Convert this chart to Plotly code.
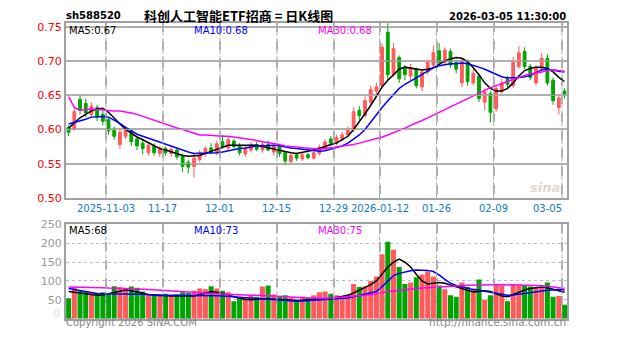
import plotly.graph_objects as go
import pandas as pd

W, H = 627, 342

holidays = ["2026-01-01", "2026-01-02", "2026-02-16", "2026-02-17", "2026-02-18",
            "2026-02-19", "2026-02-20", "2026-02-23"]
dates = [d.strftime("%Y-%m-%d") for d in pd.bdate_range("2025-10-23", "2026-03-05")
         if d.strftime("%Y-%m-%d") not in holidays]

open_ = [0.603, 0.600, 0.644, 0.638, 0.622, 0.632, 0.622, 0.614, 0.600, 0.578,
         0.590, 0.598, 0.586, 0.580, 0.566, 0.576, 0.565, 0.572, 0.565, 0.570,
         0.562, 0.552, 0.546, 0.556, 0.564, 0.573, 0.566, 0.582, 0.573, 0.583,
         0.576, 0.564, 0.570, 0.578, 0.570, 0.578, 0.567, 0.575, 0.566, 0.553,
         0.563, 0.557, 0.563, 0.558, 0.565, 0.572, 0.586, 0.580, 0.586, 0.592,
         0.600, 0.628, 0.620, 0.640, 0.656, 0.664, 0.742, 0.680, 0.705, 0.690,
         0.678, 0.688, 0.662, 0.684, 0.694, 0.715, 0.698, 0.714, 0.698, 0.668,
         0.698, 0.668, 0.678, 0.640, 0.652, 0.630, 0.655, 0.674, 0.664, 0.692,
         0.714, 0.692, 0.668, 0.688, 0.704, 0.672, 0.632, 0.656]
high = [0.606, 0.632, 0.650, 0.645, 0.640, 0.636, 0.628, 0.618, 0.604, 0.602,
        0.605, 0.600, 0.590, 0.586, 0.582, 0.580, 0.576, 0.575, 0.574, 0.574,
        0.565, 0.556, 0.564, 0.570, 0.576, 0.580, 0.584, 0.592, 0.590, 0.586,
        0.580, 0.576, 0.582, 0.582, 0.582, 0.584, 0.580, 0.578, 0.568, 0.566,
        0.566, 0.566, 0.566, 0.570, 0.578, 0.586, 0.590, 0.592, 0.596, 0.604,
        0.632, 0.634, 0.648, 0.664, 0.668, 0.726, 0.758, 0.726, 0.708, 0.694,
        0.696, 0.690, 0.688, 0.702, 0.722, 0.726, 0.720, 0.718, 0.702, 0.704,
        0.702, 0.688, 0.680, 0.660, 0.656, 0.665, 0.674, 0.678, 0.706, 0.722,
        0.720, 0.696, 0.694, 0.712, 0.710, 0.676, 0.650, 0.660]
low = [0.590, 0.598, 0.622, 0.618, 0.618, 0.612, 0.606, 0.592, 0.585, 0.572,
       0.586, 0.576, 0.570, 0.564, 0.562, 0.562, 0.560, 0.562, 0.560, 0.556,
       0.538, 0.536, 0.530, 0.552, 0.560, 0.564, 0.562, 0.572, 0.570, 0.572,
       0.562, 0.560, 0.566, 0.568, 0.566, 0.568, 0.562, 0.560, 0.548, 0.550,
       0.554, 0.554, 0.556, 0.556, 0.562, 0.570, 0.576, 0.577, 0.582, 0.588,
       0.596, 0.614, 0.618, 0.636, 0.648, 0.660, 0.672, 0.676, 0.668, 0.672,
       0.672, 0.660, 0.656, 0.680, 0.690, 0.694, 0.694, 0.690, 0.682, 0.662,
       0.664, 0.664, 0.640, 0.628, 0.610, 0.626, 0.652, 0.662, 0.660, 0.688,
       0.688, 0.672, 0.664, 0.684, 0.664, 0.636, 0.622, 0.645]
close = [0.596, 0.626, 0.628, 0.624, 0.634, 0.618, 0.612, 0.598, 0.590, 0.596,
         0.600, 0.582, 0.576, 0.572, 0.577, 0.566, 0.573, 0.566, 0.571, 0.560,
         0.546, 0.545, 0.558, 0.566, 0.572, 0.567, 0.579, 0.575, 0.585, 0.575,
         0.566, 0.572, 0.578, 0.571, 0.578, 0.570, 0.575, 0.565, 0.554, 0.562,
         0.558, 0.563, 0.559, 0.566, 0.574, 0.582, 0.580, 0.588, 0.592, 0.600,
         0.626, 0.620, 0.642, 0.658, 0.662, 0.720, 0.680, 0.718, 0.674, 0.680,
         0.690, 0.664, 0.684, 0.698, 0.712, 0.698, 0.716, 0.694, 0.688, 0.700,
         0.670, 0.682, 0.645, 0.655, 0.625, 0.660, 0.668, 0.666, 0.698, 0.712,
         0.692, 0.676, 0.690, 0.704, 0.668, 0.642, 0.646, 0.652]

ma5 = [0.602, 0.610, 0.617, 0.622, 0.627, 0.630, 0.631, 0.625, 0.616, 0.608,
       0.600, 0.594, 0.589, 0.585, 0.581, 0.576, 0.572, 0.570, 0.567, 0.564,
       0.562, 0.561, 0.561, 0.562, 0.565, 0.568, 0.572, 0.575, 0.577, 0.577,
       0.577, 0.577, 0.577, 0.577, 0.575, 0.573, 0.571, 0.569, 0.567, 0.566,
       0.565, 0.566, 0.568, 0.570, 0.572, 0.575, 0.578, 0.580, 0.585, 0.590,
       0.600, 0.611, 0.623, 0.635, 0.648, 0.662, 0.672, 0.680, 0.688, 0.691,
       0.690, 0.688, 0.687, 0.688, 0.690, 0.695, 0.700, 0.703, 0.705, 0.704,
       0.699, 0.690, 0.680, 0.668, 0.660, 0.656, 0.656, 0.660, 0.668, 0.678,
       0.686, 0.689, 0.691, 0.691, 0.689, 0.684, 0.676, 0.670]
ma10 = [0.608, 0.610, 0.612, 0.615, 0.618, 0.619, 0.619, 0.618, 0.614, 0.609,
        0.603, 0.598, 0.593, 0.590, 0.587, 0.584, 0.582, 0.579, 0.576, 0.573,
        0.570, 0.567, 0.565, 0.565, 0.565, 0.565, 0.566, 0.567, 0.569, 0.570,
        0.572, 0.573, 0.575, 0.576, 0.576, 0.577, 0.577, 0.576, 0.574, 0.573,
        0.572, 0.571, 0.570, 0.569, 0.568, 0.569, 0.571, 0.573, 0.576, 0.580,
        0.586, 0.592, 0.600, 0.611, 0.622, 0.632, 0.642, 0.651, 0.660, 0.666,
        0.671, 0.676, 0.681, 0.686, 0.690, 0.693, 0.695, 0.696, 0.696, 0.697,
        0.696, 0.694, 0.691, 0.688, 0.684, 0.680, 0.677, 0.675, 0.675, 0.676,
        0.677, 0.679, 0.683, 0.687, 0.688, 0.686, 0.685, 0.684]
ma30 = [0.648, 0.632, 0.628, 0.629, 0.630, 0.629, 0.628, 0.628, 0.627, 0.627,
        0.626, 0.624, 0.622, 0.619, 0.616, 0.613, 0.610, 0.608, 0.605, 0.602,
        0.600, 0.597, 0.594, 0.592, 0.592, 0.591, 0.591, 0.590, 0.590, 0.589,
        0.588, 0.587, 0.585, 0.584, 0.582, 0.581, 0.579, 0.578, 0.576, 0.575,
        0.574, 0.573, 0.572, 0.571, 0.571, 0.572, 0.573, 0.574, 0.575, 0.576,
        0.578, 0.580, 0.582, 0.584, 0.586, 0.589, 0.592, 0.595, 0.599, 0.602,
        0.606, 0.609, 0.613, 0.617, 0.621, 0.625, 0.629, 0.633, 0.637, 0.642,
        0.646, 0.650, 0.654, 0.658, 0.661, 0.664, 0.667, 0.670, 0.674, 0.677,
        0.679, 0.681, 0.682, 0.684, 0.686, 0.687, 0.686, 0.685]

volume = [54, 83, 75, 72, 70, 68, 70, 64, 86, 83,
          80, 85, 82, 72, 65, 62, 64, 66, 62, 65,
          70, 68, 74, 80, 78, 86, 80, 74, 70, 46,
          55, 56, 60, 58, 85, 88, 64, 58, 62, 56,
          50, 58, 55, 62, 70, 72, 66, 62, 60, 64,
          92, 84, 86, 100, 112, 171, 204, 183, 137, 92,
          96, 110, 117, 125, 112, 88, 78, 62, 58, 96,
          84, 80, 104, 50, 62, 92, 88, 46, 92, 90,
          88, 85, 84, 82, 96, 58, 60, 37]
vma5 = [72, 70, 68, 66, 64, 62, 63, 66, 70, 74,
        76, 74, 70, 67, 64, 62, 62, 61, 60, 60,
        59, 58, 60, 64, 68, 71, 70, 67, 63, 58,
        54, 51, 50, 52, 53, 53, 52, 51, 50, 49,
        48, 49, 51, 52, 51, 52, 54, 56, 58, 62,
        68, 75, 82, 90, 100, 118, 137, 150, 158, 150,
        137, 118, 100, 92, 94, 96, 94, 90, 84, 80,
        75, 71, 72, 74, 72, 66, 60, 58, 64, 72,
        76, 80, 83, 84, 82, 78, 74, 70]
vma10 = [80, 77, 74, 71, 68, 67, 66, 66, 66, 67,
         67, 67, 66, 65, 64, 63, 62, 62, 62, 62,
         62, 62, 62, 62, 62, 62, 61, 60, 59, 58,
         56, 55, 53, 52, 51, 50, 49, 48, 47, 47,
         46, 47, 48, 49, 50, 50, 51, 52, 53, 55,
         58, 61, 64, 68, 72, 85, 100, 114, 120, 124,
         127, 129, 129, 128, 125, 116, 104, 94, 88, 84,
         80, 77, 75, 72, 70, 67, 64, 62, 63, 65,
         67, 70, 72, 73, 75, 76, 77, 76]
vma30 = [84, 84, 84, 83, 83, 82, 82, 81, 81, 80,
         80, 79, 79, 78, 77, 76, 75, 75, 74, 73,
         72, 71, 70, 69, 68, 67, 66, 65, 64, 64,
         63, 63, 62, 62, 62, 61, 60, 59, 58, 58,
         57, 56, 55, 55, 54, 54, 55, 56, 57, 58,
         59, 60, 62, 64, 66, 69, 72, 74, 76, 78,
         79, 80, 81, 82, 83, 84, 85, 86, 87, 88,
         88, 89, 89, 90, 90, 90, 90, 90, 90, 90,
         89, 89, 88, 87, 86, 84, 82, 80]

price_ticks = [0.50, 0.55, 0.60, 0.65, 0.70, 0.75]
vol_ticks = [50, 100, 150, 200, 250]
tick_dates = ["2025-11-03", "2025-11-17", "2025-12-01", "2025-12-15", "2025-12-29",
              "2026-01-12", "2026-01-26", "2026-02-09", "2026-03-05"]
tick_text = ["2025-11-03", "11-17", "12-01", "12-15", "12-29",
             "2026-01-12", "01-26", "02-09", "03-05"]

title = "科创人工智能ETF招商 = 日K线图"
code = "sh588520"
stamp = "2026-03-05 11:30:00"
price_ma_labels = ["MA5:0.67", "MA10:0.68", "MA30:0.68"]
vol_ma_labels = ["MA5:68", "MA10:73", "MA30:75"]

UP, DOWN = "#FF5A5A", "#00A400"
MA_COLORS = ["#000000", "#0000FF", "#FF00FF"]
GRID = "#B0B0B0"
FRAME = "#A0A0A0"

x = list(range(len(dates)))
tick_pos = [dates.index(d) - 0.45 for d in tick_dates]


def fx(px):
    return px / W


def fy(py):
    return 1 - py / H


fig = go.Figure()
fig.add_trace(go.Candlestick(
    x=x, open=open_, high=high, low=low, close=close,
    increasing=dict(line=dict(color=UP, width=1), fillcolor=UP),
    decreasing=dict(line=dict(color=DOWN, width=1), fillcolor=DOWN),
    whiskerwidth=0, showlegend=False, xaxis="x", yaxis="y"))
for vals, col in zip([ma5, ma10, ma30], MA_COLORS):
    fig.add_trace(go.Scatter(x=x, y=vals, mode="lines", line=dict(color=col, width=1.5),
                             showlegend=False, xaxis="x", yaxis="y"))

bar_colors = [UP if c >= o else DOWN for o, c in zip(open_, close)]
fig.add_trace(go.Bar(x=x, y=volume, marker=dict(color=bar_colors, line=dict(width=0)),
                     showlegend=False, xaxis="x2", yaxis="y2"))
for vals, col in zip([vma5, vma10, vma30], MA_COLORS):
    fig.add_trace(go.Scatter(x=x, y=vals, mode="lines", line=dict(color=col, width=1.5),
                             showlegend=False, xaxis="x2", yaxis="y2"))

xrange = [-0.46, 87.44]
fig.update_layout(
    width=W, height=H, margin=dict(l=0, r=0, t=0, b=0),
    paper_bgcolor="white", plot_bgcolor="white", bargap=0.12,
    xaxis=dict(domain=[fx(66), fx(567)], anchor="y", rangeslider=dict(visible=False),
               range=xrange, tickvals=tick_pos, showticklabels=False,
               showgrid=True, gridcolor=GRID, gridwidth=1.5, griddash="dash",
               showline=True, linecolor=FRAME, linewidth=2, mirror=True, zeroline=False),
    xaxis2=dict(domain=[fx(66), fx(567)], anchor="y2",
                range=xrange, tickvals=tick_pos, showticklabels=False,
                showgrid=True, gridcolor=GRID, gridwidth=1.5, griddash="dash",
                showline=True, linecolor=FRAME, linewidth=2, mirror=True, zeroline=False),
    yaxis=dict(domain=[fy(199.5), fy(18)], range=[0.50, 0.755], tickvals=price_ticks,
               ticktext=[f"{v:.2f}" for v in price_ticks],
               tickfont=dict(family="DejaVu Sans", size=11, color="#FF0000"),
               showgrid=True, gridcolor=GRID, gridwidth=1.5, showline=True,
               linecolor=FRAME, linewidth=2, mirror=True, zeroline=False),
    yaxis2=dict(domain=[fy(325), fy(227)], range=[0, 250], tickvals=vol_ticks,
                ticktext=[str(v) for v in vol_ticks],
                tickfont=dict(family="DejaVu Sans", size=11, color="#999999"),
                showgrid=True, gridcolor="#BDBDBD", gridwidth=1, griddash="dot",
                showline=True, linecolor=FRAME, linewidth=2, mirror=True, zeroline=False),
)

# reinforce the grid with thin lines drawn from the tick arrays (above the marks)
for v in price_ticks[1:]:
    fig.add_shape(type="line", xref="x domain", yref="y", x0=0, x1=1, y0=v, y1=v,
                  line=dict(color=GRID, width=1), layer="above")
for p in tick_pos:
    fig.add_shape(type="line", xref="x", yref="y domain", x0=p, x1=p, y0=0, y1=1,
                  line=dict(color=GRID, width=1, dash="4px,2px"), layer="above")
    fig.add_shape(type="line", xref="x2", yref="y2 domain", x0=p, x1=p, y0=0, y1=1,
                  line=dict(color=GRID, width=1, dash="4px,2px"), layer="above")

ann = []


def text(s, px, py, size=10, color="black", xanchor="left", family="DejaVu Sans"):
    ann.append(dict(text=s, x=fx(px), y=fy(py), xref="paper", yref="paper",
                    xanchor=xanchor, yanchor="middle", showarrow=False,
                    font=dict(family=family, size=size, color=color)))


text("<b>" + code + "</b>", 64, 10, size=10)
text("<b>" + title + "</b>", 238, 10, size=13, xanchor="center",
     family="Noto Sans CJK SC")
text("<b>" + stamp + "</b>", 568, 11, size=10, xanchor="right")
for lab, col, px in zip(price_ma_labels, MA_COLORS, [67, 192, 316]):
    text(lab, px, 25, size=10, color=col)
for lab, col, px in zip(vol_ma_labels, MA_COLORS, [67, 192, 316]):
    text(lab, px, 233, size=10, color=col)
for i, (pos, lab) in enumerate(zip(tick_pos, tick_text)):
    px = 66 + (pos - xrange[0]) / (xrange[1] - xrange[0]) * 501
    if i == len(tick_text) - 1:
        text(lab, 564, 211, size=10, color="#1478D0", xanchor="right")
    else:
        text(lab, px, 211, size=10, color="#1478D0", xanchor="center")
text("0", 62, 320, size=11, color="#DDDDDD", xanchor="right")
text("Copyright 2026 SINA.COM", 64, 329, size=10, color="#888888")
text("http://finance.sina.com.cn", 568, 329, size=10.5, color="#888888", xanchor="right")
text("<i><b>sina</b></i>", 562, 189, size=13, color="#E4D4D4", xanchor="right")

fig.update_layout(annotations=ann)
fig.write_html("out.html")
